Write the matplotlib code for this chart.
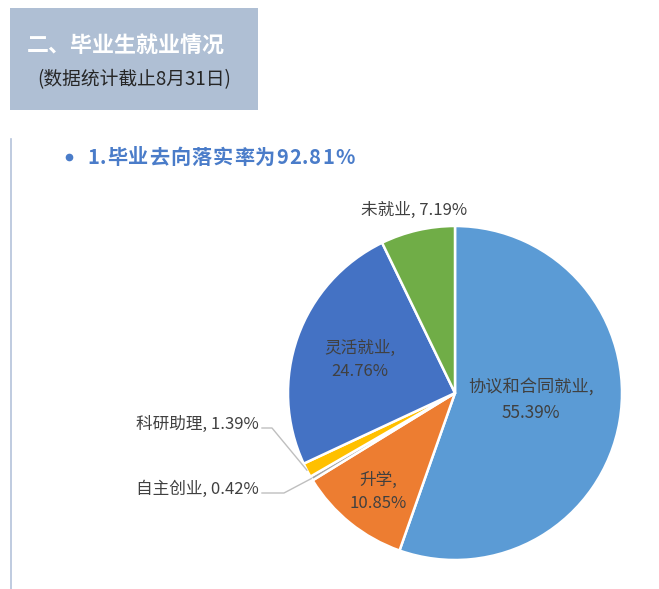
import numpy as np
import matplotlib.pyplot as plt
from matplotlib.patches import Rectangle

plt.rcParams['font.family'] = ['Noto Sans CJK SC', 'DejaVu Sans']

# pie data, clockwise from 12 o'clock
categories = ['协议和合同就业', '升学', '自主创业', '科研助理', '灵活就业', '未就业']
shares = [55.39, 10.85, 0.42, 1.39, 24.76, 7.19]
colors = ['#5B9BD5', '#ED7D31', '#A5A5A5', '#FFC000', '#4472C4', '#70AD47']

title = '二、毕业生就业情况'
subtitle = '(数据统计截止8月31日)'
bullet = '1.毕业去向落实率为92.81%'

W, H = 659, 589
fig = plt.figure(figsize=(W / 100, H / 100), dpi=100)
ax = fig.add_axes([0, 0, 1, 1])
ax.set_xlim(0, W)
ax.set_ylim(H, 0)
renderer = fig.canvas.get_renderer()

# header block
ax.add_patch(Rectangle((10, 8), 248, 102, color='#AFBFD4', lw=0))
ax.text(27, 45, title, color='white', fontsize=15.8, fontweight='bold', va='center')
ax.text(37, 80, subtitle, color='#262626', fontsize=13.5, va='center')

# left rule and bullet line
ax.plot([10.5, 10.5], [139, 589], color='#B4C2DA', lw=1.2)
ax.plot([69], [157], 'o', color='#4A7CC9', ms=4.5)

# spaced-out bullet text, one char at a time
x = 87
for ch in bullet:
    t = ax.text(x, 157, ch, color='#4A7CC9', fontsize=14.5, fontweight='bold', va='center')
    bb = t.get_window_extent(renderer)
    x += bb.width + 1.0

# pie (y axis points down, so counterclock in data = clockwise on screen)
cx, cy, r = 455, 393, 167
wedges, _ = ax.pie(shares, colors=colors, startangle=-90, counterclock=True,
                   center=(cx, cy), radius=r, frame=True,
                   wedgeprops=dict(edgecolor='white', linewidth=1.8))

lab_col = '#404040'
fs = 12

def lab(i):
    return '%s, %.2f%%' % (categories[i], shares[i])

# inside / above labels
ax.text(531, 400, categories[0] + ',\n%.2f%%' % shares[0], ha='center', va='center',
        color=lab_col, fontsize=12.4, linespacing=1.5)
ax.text(378, 492, categories[1] + ',\n%.2f%%' % shares[1], ha='center', va='center',
        color=lab_col, fontsize=fs, linespacing=1.5)
ax.text(360, 360, categories[4] + ',\n%.2f%%' % shares[4], ha='center', va='center',
        color=lab_col, fontsize=fs, linespacing=1.5)
ax.text(414, 210, lab(5), ha='center', va='center', color=lab_col, fontsize=fs)

# outside labels with leader lines
for i, ty, elbow_x in [(3, 424, 272), (2, 489, 284)]:
    w = wedges[i]
    mid = np.deg2rad((w.theta1 + w.theta2) / 2)
    px, py = cx + r * np.cos(mid), cy + r * np.sin(mid)
    ax.plot([px, elbow_x, 262], [py, ty + 4, ty + 4], color='#BFBFBF', lw=1)
    ax.text(259, ty, lab(i), ha='right', va='center', color=lab_col, fontsize=fs)

ax.set_xlim(0, W)
ax.set_ylim(H, 0)
ax.set_aspect('equal')
ax.axis('off')

fig.savefig('out.png', dpi=100, facecolor='white')
